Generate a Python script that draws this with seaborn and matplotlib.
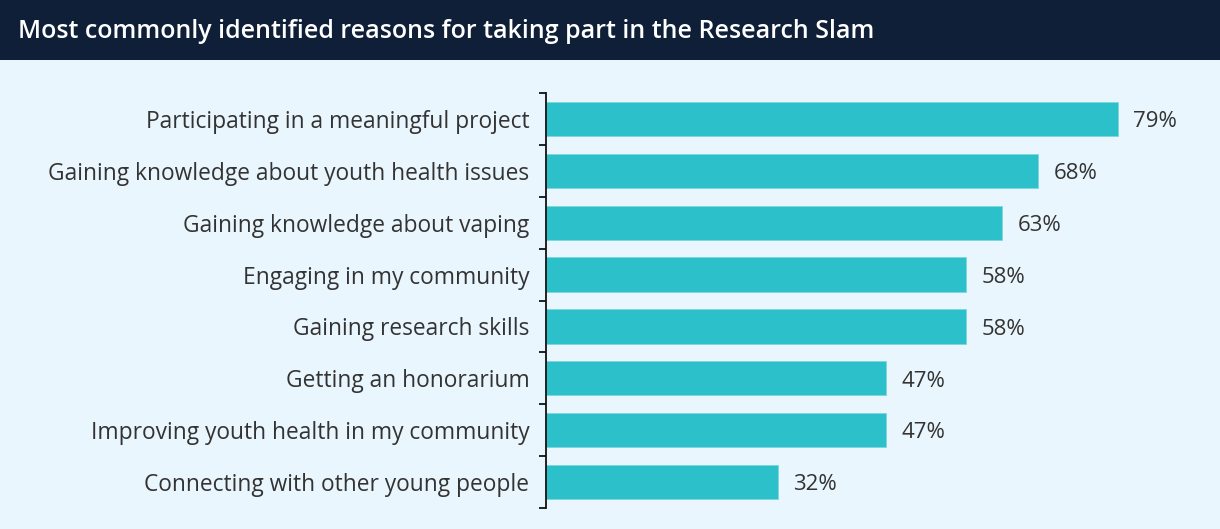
import matplotlib
matplotlib.use("Agg")
import matplotlib.pyplot as plt
import seaborn as sns
import pandas as pd
from matplotlib.patches import Rectangle

reasons = [
    "Participating in a meaningful project",
    "Gaining knowledge about youth health issues",
    "Gaining knowledge about vaping",
    "Engaging in my community",
    "Gaining research skills",
    "Getting an honorarium",
    "Improving youth health in my community",
    "Connecting with other young people",
]
percent = [79, 68, 63, 58, 58, 47, 47, 32]
title = "Most commonly identified reasons for taking part in the Research Slam"

bg = "#eaf6fd"
banner = "#0f1f38"
bar_color = "#2cc0ca"
text_color = "#333333"

sns.set_theme(style="white")
plt.rcParams["font.family"] = ["Open Sans", "DejaVu Sans"]

df = pd.DataFrame({"reason": reasons, "percent": percent})

W, H = 1220, 529
fig = plt.figure(figsize=(W / 100, H / 100), dpi=100, facecolor=bg)

# title banner
fig.patches.append(Rectangle((0, 1 - 60 / H), 1, 60 / H, transform=fig.transFigure,
                             facecolor=banner, edgecolor="none", zorder=0))
fig.text(18 / W, 1 - 32 / H, title, color="white", fontsize=18, fontweight="semibold",
         va="center", ha="left")

ax = fig.add_axes([546 / W, 1 - 508 / H, (W - 546) / W, 415 / H])
ax.set_facecolor(bg)

sns.barplot(data=df, y="reason", x="percent", orient="h", color=bar_color,
            width=0.66, saturation=1, edgecolor="#7fd6dc", linewidth=0.6, ax=ax)

scale = 7.24  # px per percent
ax.set_xlim(0, (W - 546) / scale)
ax.set_ylim(len(reasons) - 0.5, -0.5)

for i, v in enumerate(percent):
    ax.annotate(f"{v}%", (v, i), xytext=(11, -2), textcoords="offset points",
                va="center", ha="left", fontsize=16, color=text_color)

for s in ["top", "right", "bottom"]:
    ax.spines[s].set_visible(False)
ax.spines["left"].set_color("#111111")
ax.spines["left"].set_linewidth(1.3)
ax.set_xticks([])
ax.set_xlabel("")
ax.set_ylabel("")

ax.set_yticks(range(len(reasons)))
ax.set_yticklabels(reasons, fontsize=16.4, color=text_color)
ax.tick_params(axis="y", which="major", length=0, pad=12)
ax.set_yticks([i - 0.5 for i in range(len(reasons) + 1)], minor=True)
ax.tick_params(axis="y", which="minor", length=5, width=1.3, color="#111111", left=True)

fig.savefig("out.png", dpi=100, facecolor=bg)
